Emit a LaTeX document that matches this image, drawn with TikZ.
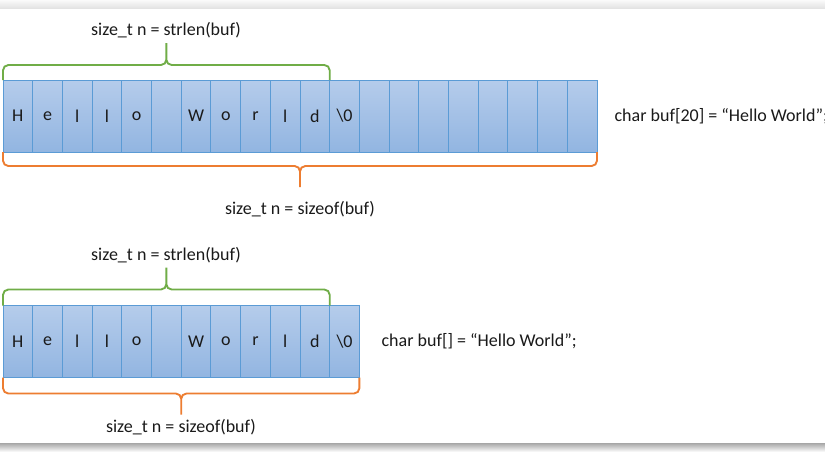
\documentclass[tikz,border=0pt]{standalone}
\usepackage{fontspec}
\setmainfont{Carlito}
\usetikzlibrary{positioning, calc}
\definecolor{cellline}{HTML}{5B9BD5}
\definecolor{celltop}{HTML}{B5CCEB}
\definecolor{cellbot}{HTML}{92B5E1}
\definecolor{lenline}{HTML}{70AD47}
\definecolor{sizeline}{HTML}{ED7D31}
\definecolor{inktext}{HTML}{1A1A1A}
\tikzset{
  cell/.style     = {draw=cellline, line width=0.75pt, top color=celltop, bottom color=cellbot, minimum width=22.275pt, minimum height=54pt, inner sep=0pt, outer sep=0pt, text=inktext, font=\fontsize{13.5}{16}\selectfont},
  codetext/.style = {text=inktext, font=\fontsize{13.5}{16}\selectfont, inner sep=1pt},
  lenbrace/.style = {draw=lenline, line width=1.4pt, rounded corners=4pt},
  sizebrace/.style = {draw=sizeline, line width=1.4pt, rounded corners=4pt}
}

\begin{document}
\begin{tikzpicture}[x=0.75pt, y=-0.75pt]
  \useasboundingbox (0,0) rectangle (825,454);
  \fill[white] (0,0) rectangle (825,454);
  % page shadow
  \shade[top color=gray!4, bottom color=gray!22] (0,0) rectangle (825,8);
  \shade[top color=gray!70, bottom color=white] (0,443) rectangle (825,452);

  % char buf[20]
  \node[cell] (a1) at (17.85,116) {H};
  \foreach \ch [count=\i from 2] in {e,l,l,o,{},W,o,r,l,d,\textbackslash0,{},{},{},{},{},{},{},{}} {
    \pgfmathtruncatemacro\j{\i-1}
    \node[cell, right=0pt of a\j] (a\i) {\ch};
  }
  \node[codetext, anchor=west] (declA) at (613,116) {char buf[20] = “Hello World”;};

  \coordinate (lenAtip) at ($(a1.north west)!0.5!(a11.north east) + (0,-15)$);
  \coordinate (lenAend) at ($(lenAtip) + (0,-22)$);
  \node[codetext] (lenA) at (166,30) {size\_t n = strlen(buf)};
  \draw[lenbrace] (a1.north west) |- (lenAtip) -- (lenAend)
                  (a11.north east) |- (lenAtip) -- (lenAend);

  \coordinate (sizeAtip) at ($(a1.south west)!0.5!(a20.south east) + (0,14)$);
  \coordinate (sizeAend) at ($(sizeAtip) + (0,21)$);
  \node[codetext] (sizeA) at (300,209) {size\_t n = sizeof(buf)};
  \draw[sizebrace] (a1.south west) |- (sizeAtip) -- (sizeAend)
                   (a20.south east) |- (sizeAtip) -- (sizeAend);

  % char buf[]
  \node[cell] (b1) at (17.85,341.5) {H};
  \foreach \ch [count=\i from 2] in {e,l,l,o,{},W,o,r,l,d,\textbackslash0} {
    \pgfmathtruncatemacro\j{\i-1}
    \node[cell, right=0pt of b\j] (b\i) {\ch};
  }
  \node[codetext, anchor=west] (declB) at (380,341.5) {char buf[] = “Hello World”;};

  \coordinate (lenBtip) at ($(b1.north west)!0.5!(b11.north east) + (0,-16)$);
  \coordinate (lenBend) at ($(lenBtip) + (0,-22)$);
  \node[codetext] (lenB) at (166,255) {size\_t n = strlen(buf)};
  \draw[lenbrace] (b1.north west) |- (lenBtip) -- (lenBend)
                  (b11.north east) |- (lenBtip) -- (lenBend);

  \coordinate (sizeBtip) at ($(b1.south west)!0.5!(b12.south east) + (0,16)$);
  \coordinate (sizeBend) at ($(sizeBtip) + (0,21)$);
  \node[codetext] (sizeB) at (181,427) {size\_t n = sizeof(buf)};
  \draw[sizebrace] (b1.south west) |- (sizeBtip) -- (sizeBend)
                   (b12.south east) |- (sizeBtip) -- (sizeBend);
\end{tikzpicture}
\end{document}
